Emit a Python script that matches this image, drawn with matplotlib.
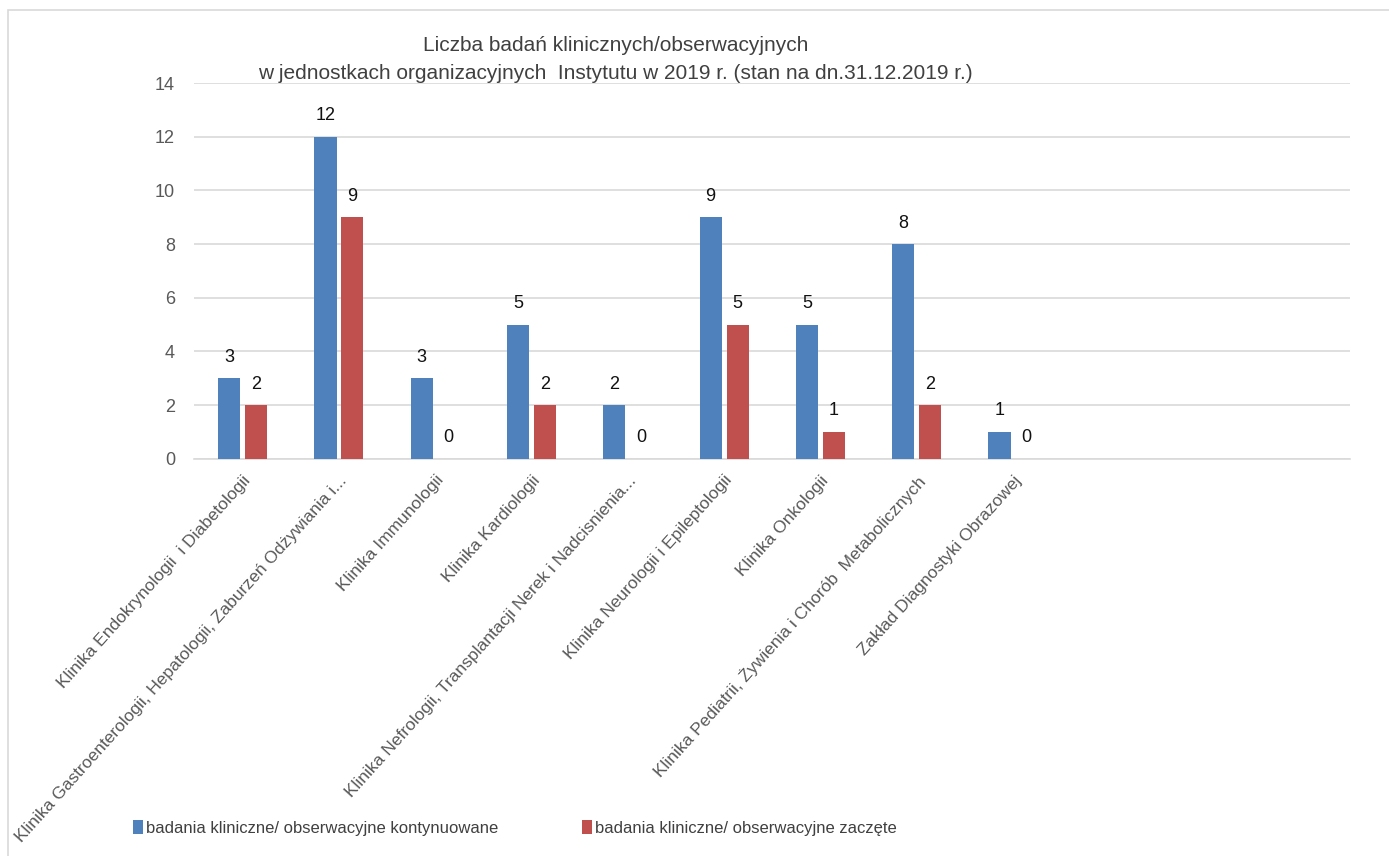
import numpy as np
import matplotlib
matplotlib.use("Agg")
from matplotlib import pyplot as plt
from matplotlib.patches import Rectangle

plt.rcParams['font.family'] = ['Liberation Sans', 'DejaVu Sans']

# data -----------------------------------------------------------------------
categories = [
    "Klinika Endokrynologii  i Diabetologii",
    "Klinika Gastroenterologii, Hepatologii, Zaburzeń Odżywiania i...",
    "Klinika Immunologii",
    "Klinika Kardiologii",
    "Klinika Nefrologii, Transplantacji Nerek i Nadcisnienia...",
    "Klinika Neurologii i Epileptologii",
    "Klinika Onkologii",
    "Klinika Pediatrii, Żywienia i Chorób  Metabolicznych",
    "Zakład Diagnostyki Obrazowej",
]
kontynuowane = [3, 12, 3, 5, 2, 9, 5, 8, 1]
zaczete = [2, 9, 0, 2, 0, 5, 1, 2, 0]
series_names = ["badania kliniczne/ obserwacyjne kontynuowane",
                "badania kliniczne/ obserwacyjne zaczęte"]
title_lines = ["Liczba badań klinicznych/obserwacyjnych",
               "w jednostkach organizacyjnych  Instytutu w 2019 r. (stan na dn.31.12.2019 r.)"]

blue = "#4F81BD"
red = "#C0504D"

fig = plt.figure(figsize=(13.89, 8.56), dpi=100)
ax = fig.add_axes([0.140, 0.464, 0.832, 0.439])

x = np.arange(len(categories))
w = 0.23
b1 = ax.bar(x - 0.14, kontynuowane, w, color=blue, label=series_names[0], zorder=3)
b2 = ax.bar(x + 0.14, zaczete, w, color=red, label=series_names[1], zorder=3)

# value labels above bars
for bars in (b1, b2):
    for r in bars:
        ax.annotate(str(int(r.get_height())),
                    (r.get_x() + r.get_width() / 2, r.get_height()),
                    xytext=(0, 9), textcoords="offset points",
                    ha="center", va="bottom", fontsize=13, color="#111111")

ax.set_xlim(-0.5, 11.5)
ax.set_ylim(0, 14)
ax.set_yticks(range(0, 15, 2))
ax.yaxis.grid(True, color="#D9D9D9", linewidth=1.2, zorder=0)
ax.set_axisbelow(True)
for s in ("top", "right", "left"):
    ax.spines[s].set_visible(False)
ax.spines["bottom"].set_color("#D9D9D9")
ax.spines["bottom"].set_linewidth(1.2)
ax.tick_params(axis="both", length=0, labelsize=13, colors="#595959", pad=14)

ax.set_xticks(x)
ax.set_xticklabels(categories, rotation=48, ha="right", rotation_mode="anchor",
                   fontsize=12.5, color="#595959")
ax.tick_params(axis="x", pad=10)

# title (two centred lines)
fig.text(0.443, 0.947, title_lines[0], ha="center", va="center", fontsize=15, color="#404040")
fig.text(0.443, 0.914, title_lines[1], ha="center", va="center", fontsize=15, color="#404040")

# legend
fig.legend(loc="lower left", bbox_to_anchor=(0.085, 0.006), ncol=2, frameon=False,
           fontsize=12, handlelength=0.6, handleheight=0.9, handletextpad=0.2,
           columnspacing=5.0, labelcolor="#404040")

# thin frame round the chart
fig.patches.append(Rectangle((0.006, -0.01), 1.1, 0.998, transform=fig.transFigure,
                             fill=False, edgecolor="#D9D9D9", linewidth=1.2))

fig.savefig("out.png", dpi=100)
